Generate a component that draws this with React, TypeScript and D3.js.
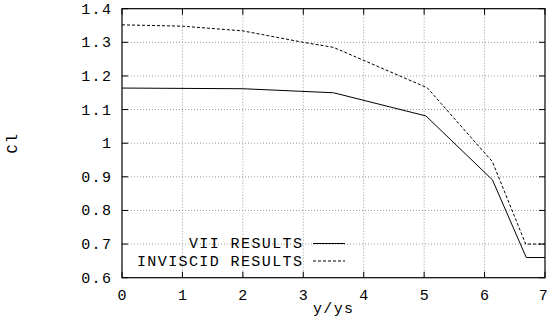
import React from "react";
import * as d3 from "d3";

const viiX = [0, 2, 3.5, 5.03, 6.13, 6.69, 7];
const viiY = [1.164, 1.162, 1.15, 1.081, 0.891, 0.66, 0.66];
const invX = [0, 1, 2, 3, 3.5, 5.05, 6.13, 6.68, 7];
const invY = [1.352, 1.348, 1.334, 1.3, 1.285, 1.165, 0.945, 0.7, 0.7];
const xTicks = [0, 1, 2, 3, 4, 5, 6, 7];
const yTicks = [0.6, 0.7, 0.8, 0.9, 1, 1.1, 1.2, 1.3, 1.4];
const seriesNames = ["VII RESULTS", "INVISCID RESULTS"];

const W = 548, H = 322;
const L = 122, R = 545, T = 8.7, B = 277.7;

export default function App() {
  const x = d3.scaleLinear().domain([0, 7]).range([L, R]);
  const y = d3.scaleLinear().domain([0.6, 1.4]).range([B, T]);
  const line = d3.line<[number, number]>().x(d => x(d[0])).y(d => y(d[1]));
  const vii = line(viiX.map((v, i) => [v, viiY[i]]) as [number, number][]) || "";
  const inv = line(invX.map((v, i) => [v, invY[i]]) as [number, number][]) || "";
  const font = "'Liberation Mono', 'DejaVu Sans Mono', monospace";
  const fs = 15;
  const ls = 1.4;
  const txt = { fontFamily: font, fontSize: fs, fill: "#000", letterSpacing: ls } as any;
  return (
    <svg width={W} height={H} style={{ position: "absolute", left: 0, top: 0, background: "#fff" }}>
      <rect x={0} y={0} width={W} height={H} fill="#fff" />
      {xTicks.slice(1, -1).map(t => (
        <line key={"gx" + t} x1={x(t)} x2={x(t)} y1={T} y2={B} stroke="#999" strokeWidth={1} strokeDasharray="1,2" />
      ))}
      {yTicks.slice(1, -1).map(t => (
        <line key={"gy" + t} x1={L} x2={R} y1={y(t)} y2={y(t)} stroke="#999" strokeWidth={1} strokeDasharray="1,2" />
      ))}
      {xTicks.map(t => (
        <g key={"tx" + t}>
          <line x1={x(t)} x2={x(t)} y1={B} y2={B - 6} stroke="#000" />
          <line x1={x(t)} x2={x(t)} y1={T} y2={T + 6} stroke="#000" />
          <text x={t === 7 ? x(t) - 1 : x(t) + ls / 2} y={300} textAnchor="middle" {...txt}>{String(t)}</text>
        </g>
      ))}
      {yTicks.map(t => (
        <g key={"ty" + t}>
          <line x1={L} x2={L + 6} y1={y(t)} y2={y(t)} stroke="#000" />
          <line x1={R} x2={R - 6} y1={y(t)} y2={y(t)} stroke="#000" />
          <text x={111 + ls} y={y(t) + 5} textAnchor="end" {...txt}>{d3.format("~g")(t)}</text>
        </g>
      ))}
      <rect x={L} y={T} width={R - L} height={B - T} fill="none" stroke="#000" strokeWidth={1.2} />
      <path d={vii} fill="none" stroke="#000" strokeWidth={1} />
      <path d={inv} fill="none" stroke="#000" strokeWidth={1} strokeDasharray="3,2" />
      <text x={302 + ls} y={248} textAnchor="end" {...txt}>{seriesNames[0]}</text>
      <line x1={313} x2={345} y1={243.5} y2={243.5} stroke="#000" />
      <text x={302 + ls} y={266} textAnchor="end" {...txt}>{seriesNames[1]}</text>
      <line x1={313} x2={345} y1={261} y2={261} stroke="#000" strokeDasharray="3,2" />
      <text x={333 + ls / 2} y={313} textAnchor="middle" {...txt}>y/ys</text>
      <text transform={`translate(17,143) rotate(-90)`} textAnchor="middle" {...txt}>Cl</text>
    </svg>
  );
}
